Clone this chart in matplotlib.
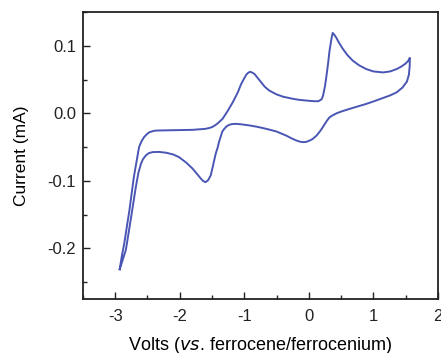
import matplotlib
matplotlib.use("Agg")
import matplotlib.pyplot as plt
from matplotlib.ticker import MultipleLocator

# forward sweep (upper branch), V vs Fc/Fc+ and mA
upperVolts = [-2.93, -2.90, -2.86, -2.78, -2.71, -2.66, -2.63, -2.59, -2.55, -2.51, -2.47, -2.40,
              -2.35, -2.1, -1.8, -1.6, -1.53, -1.49, -1.44, -1.40, -1.335, -1.26, -1.18, -1.10,
              -1.05, -1.00, -0.97, -0.94, -0.91, -0.87, -0.84, -0.79, -0.74, -0.68, -0.61,
              -0.50, -0.40, -0.25, -0.14, 0.0, 0.10, 0.15, 0.17, 0.20, 0.22, 0.25, 0.27, 0.30,
              0.32, 0.35, 0.37, 0.39, 0.425, 0.47, 0.53, 0.60, 0.68, 0.78, 0.89, 1.0, 1.15, 1.26,
              1.36, 1.43, 1.49, 1.535, 1.565]
upperCurrent = [-0.231, -0.213, -0.193, -0.144, -0.094, -0.066, -0.050, -0.041, -0.035, -0.031,
                -0.028, -0.026, -0.0255, -0.025, -0.0245, -0.023, -0.0215, -0.020, -0.017,
                -0.014, -0.008, 0.003, 0.016, 0.031, 0.043, 0.052, 0.057, 0.060, 0.0615, 0.060,
                0.058, 0.052, 0.046, 0.039, 0.0335, 0.028, 0.0246, 0.0215, 0.0198, 0.0185,
                0.0178, 0.018, 0.019, 0.021, 0.026, 0.040, 0.053, 0.075, 0.092, 0.110, 0.119,
                0.117, 0.112, 0.104, 0.095, 0.086, 0.078, 0.071, 0.0655, 0.062, 0.0605, 0.062,
                0.0655, 0.069, 0.073, 0.077, 0.082]

# reverse sweep (lower branch)
lowerVolts = [1.565, 1.563, 1.55, 1.52, 1.45, 1.36, 1.26, 1.15, 1.0, 0.89, 0.75, 0.63, 0.50,
              0.43, 0.37, 0.32, 0.28, 0.24, 0.20, 0.17, 0.12, 0.06, 0.0, -0.05, -0.09, -0.14,
              -0.2, -0.27, -0.35, -0.50, -0.66, -0.80, -0.92, -1.03, -1.13, -1.19, -1.23, -1.27,
              -1.31, -1.34, -1.36, -1.39, -1.41, -1.44, -1.46, -1.49, -1.52, -1.56, -1.60,
              -1.635, -1.67, -1.73, -1.80, -1.90, -2.01, -2.10, -2.21, -2.32, -2.42, -2.48,
              -2.525, -2.57, -2.60, -2.64, -2.68, -2.76, -2.835, -2.90, -2.93]
lowerCurrent = [0.082, 0.070, 0.057, 0.047, 0.038, 0.031, 0.0265, 0.0227, 0.0175, 0.0139,
                0.0100, 0.0065, 0.0025, 0.0, -0.003, -0.006, -0.011, -0.017, -0.023, -0.027,
                -0.033, -0.038, -0.041, -0.0425, -0.0427, -0.042, -0.040, -0.037, -0.033,
                -0.027, -0.023, -0.020, -0.018, -0.0165, -0.0156, -0.016, -0.017, -0.019,
                -0.023, -0.027, -0.033, -0.042, -0.050, -0.059, -0.067, -0.080, -0.092, -0.099,
                -0.102, -0.1005, -0.097, -0.090, -0.082, -0.073, -0.065, -0.061, -0.0584,
                -0.0572, -0.0575, -0.059, -0.0624, -0.068, -0.0746, -0.088, -0.109, -0.158,
                -0.2025, -0.222, -0.231]

plt.rcParams['font.family'] = ['Liberation Sans', 'DejaVu Sans']

fig = plt.figure(figsize=(4.41, 3.53), dpi=100)
ax = fig.add_axes([0.188, 0.153, 0.805, 0.813])

volts = upperVolts + lowerVolts
current = upperCurrent + lowerCurrent
ax.plot(volts, current, '-', color='#4a56b4', linewidth=1.4, solid_joinstyle='round')

ax.set_xlim(-3.5, 2.0)
ax.set_ylim(-0.275, 0.15)
ax.xaxis.set_minor_locator(MultipleLocator(0.5))
ax.yaxis.set_minor_locator(MultipleLocator(0.05))
ax.set_xticks([-3, -2, -1, 0, 1, 2])
ax.set_xticklabels(['-3', '-2', '-1', '0', '1', '2'])
ax.set_yticks([-0.2, -0.1, 0.0, 0.1])
ax.set_yticklabels(['-0.2', '-0.1', '0.0', '0.1'])

ax.tick_params(which='both', direction='in', top=False, right=False, labelsize=12, colors='#222222')
ax.tick_params(axis='x', which='major', pad=7)
ax.tick_params(axis='y', which='major', pad=5)
ax.tick_params(which='major', length=5, width=1)
ax.tick_params(which='minor', length=3, width=1)
for spine in ax.spines.values():
    spine.set_linewidth(1.3)
    spine.set_color('#222222')

ax.set_xlabel(r'Volts ($\it{vs}$. ferrocene/ferrocenium)', fontsize=13, labelpad=8)
ax.set_ylabel('Current (mA)', fontsize=12.5, labelpad=13)

fig.savefig('out.png', dpi=100)
